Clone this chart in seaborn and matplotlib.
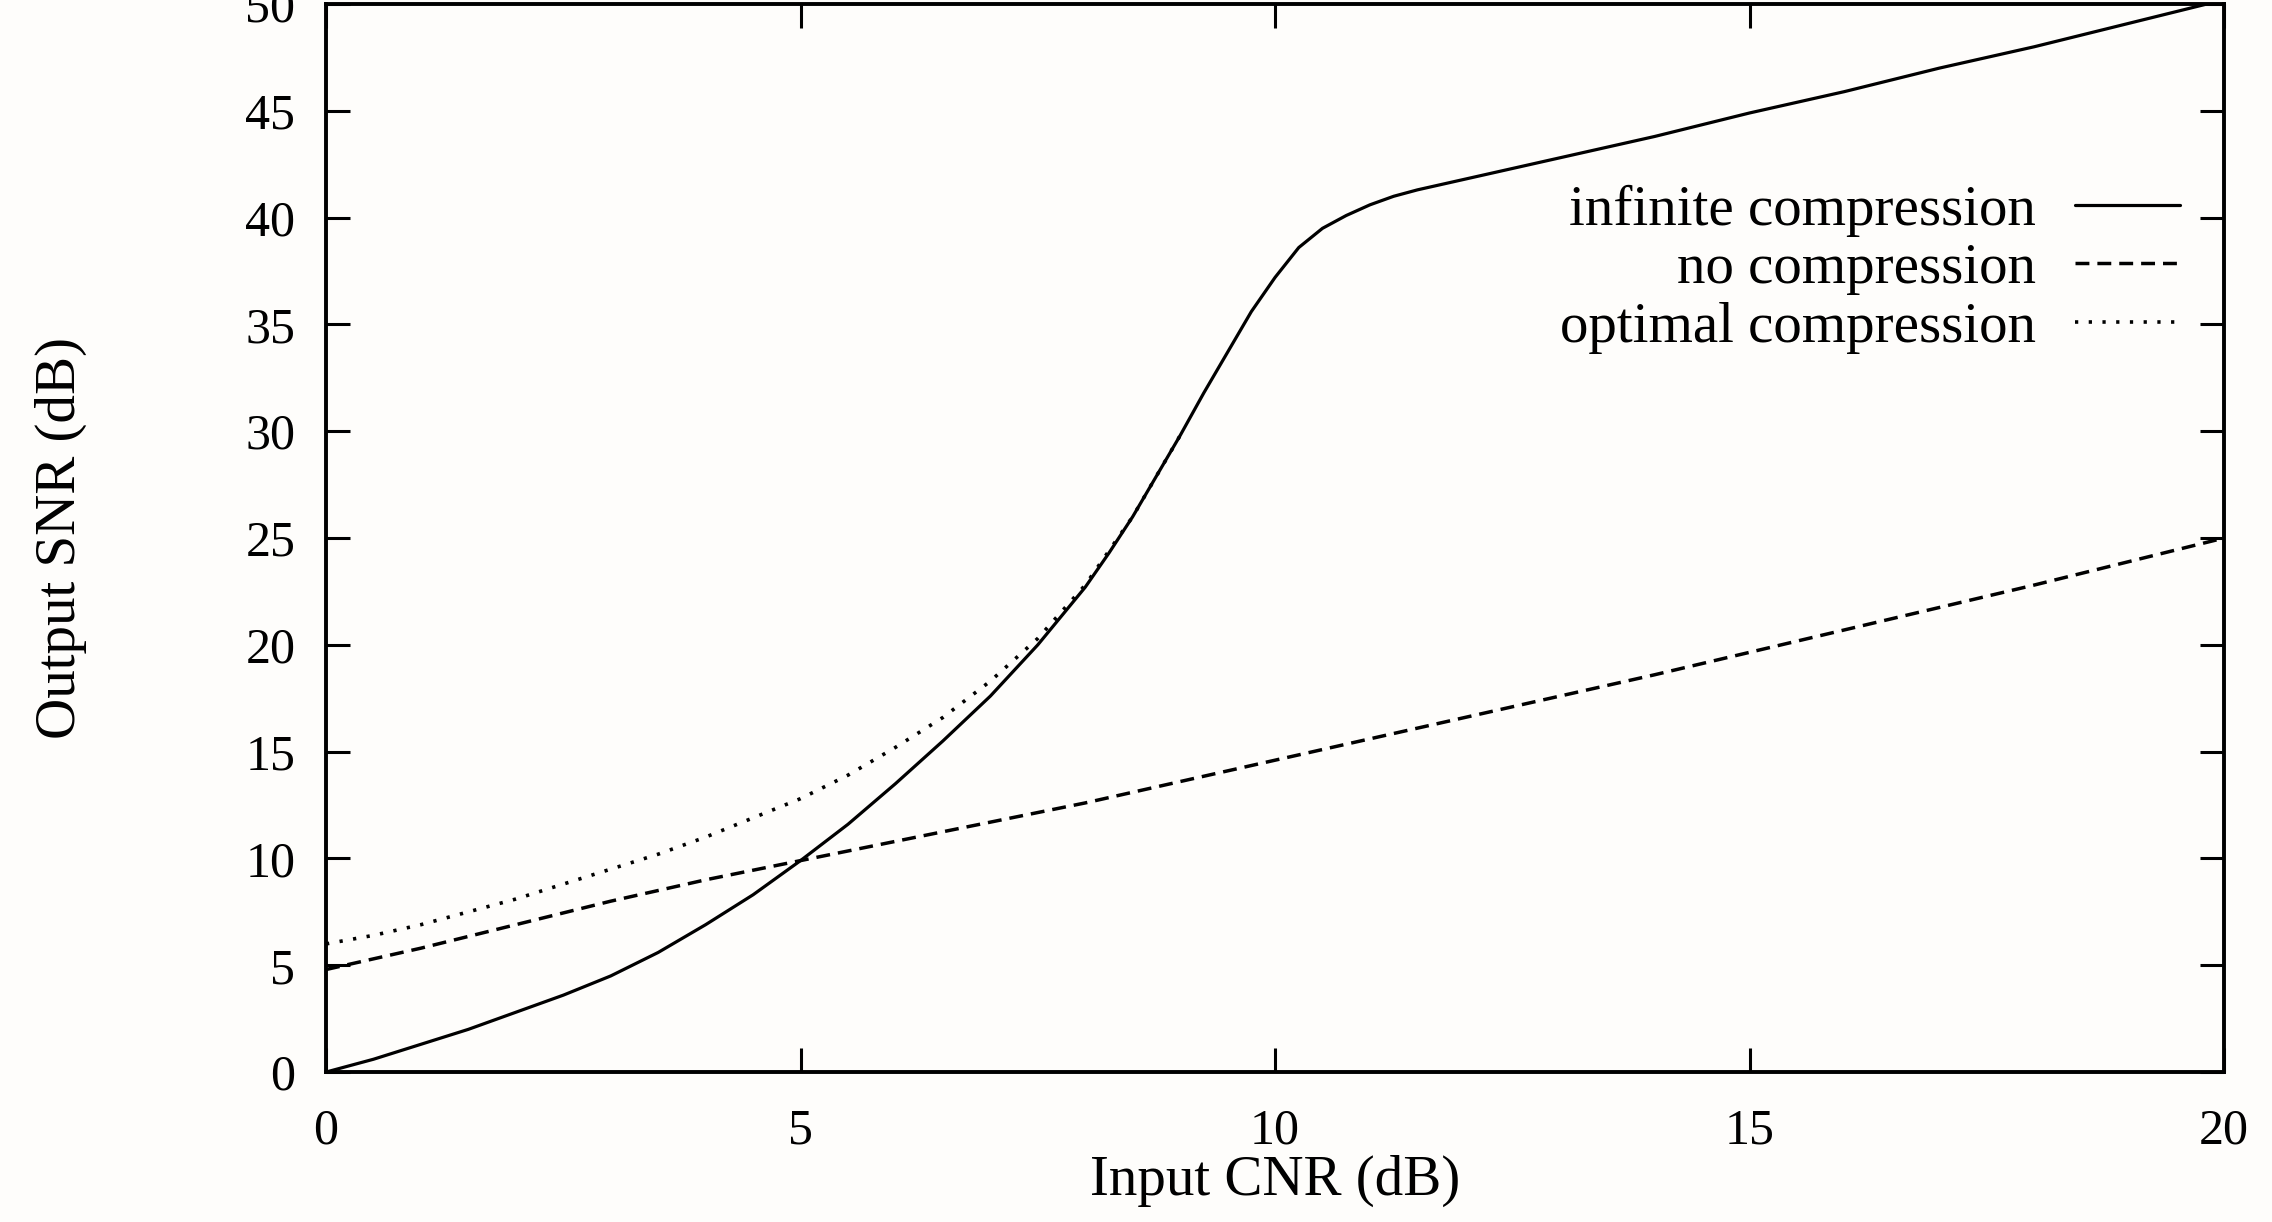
import pandas as pd
import matplotlib.pyplot as plt
import seaborn as sns

# --- data ---
X_INF = [0, 0.5, 1, 1.5, 2, 2.5, 3, 3.5, 4, 4.5, 5, 5.5, 6, 6.5, 7, 7.5, 8, 8.25, 8.5, 8.75, 9, 9.25, 9.5,
         9.75, 10, 10.25, 10.5, 10.75, 11, 11.25, 11.5, 12, 13, 14, 15, 16, 17, 18, 19, 20]
Y_INF = [0, 0.6, 1.3, 2.0, 2.8, 3.6, 4.5, 5.6, 6.9, 8.3, 9.9, 11.6, 13.5, 15.5, 17.6, 20.0, 22.7, 24.3, 26.0,
         27.9, 29.8, 31.8, 33.7, 35.6, 37.2, 38.6, 39.5, 40.1, 40.6, 41.0, 41.3, 41.8,
         42.8, 43.8, 44.9, 45.9, 47.0, 48.0, 49.1, 50.2]

X_NONE = [0, 1, 2, 3, 4, 5, 6, 7, 8, 10, 12, 14, 16, 18, 20]
Y_NONE = [4.8, 5.8, 6.9, 8.0, 9.0, 9.9, 10.8, 11.7, 12.6, 14.6, 16.6, 18.6, 20.7, 22.8, 25.0]

X_OPT = [0, 0.5, 1, 1.5, 2, 2.5, 3, 3.5, 4, 4.5, 5, 5.5, 6, 6.5, 7, 7.5, 8, 8.5, 9]
Y_OPT = [6.0, 6.4, 6.9, 7.5, 8.1, 8.8, 9.5, 10.2, 11.0, 11.9, 12.8, 13.9, 15.2, 16.6, 18.3, 20.3, 22.8, 26.0, 29.8]

LABELS = ['infinite compression', 'no compression', 'optimal compression']
X_TICKS = [0, 5, 10, 15, 20]
Y_TICKS = [0, 5, 10, 15, 20, 25, 30, 35, 40, 45, 50]


def draw_chart():
    sns.set_theme(style='ticks')
    plt.rcParams['font.family'] = ['Liberation Serif', 'DejaVu Serif']
    plt.rcParams['text.color'] = 'black'
    plt.rcParams['axes.labelcolor'] = 'black'
    plt.rcParams['xtick.color'] = 'black'
    plt.rcParams['ytick.color'] = 'black'

    fig = plt.figure(figsize=(22.72, 12.22), dpi=100, facecolor='#fefdfb')
    ax = fig.add_axes([0.1435, 0.1227, 0.8354, 0.874])
    ax.set_facecolor('#fefdfb')

    df_inf = pd.DataFrame({'x': X_INF, 'y': Y_INF})
    df_none = pd.DataFrame({'x': X_NONE, 'y': Y_NONE})
    df_opt = pd.DataFrame({'x': X_OPT, 'y': Y_OPT})

    # optimal first so the solid curve sits on top where they merge
    sns.lineplot(data=df_opt, x='x', y='y', ax=ax, color='black', lw=2.6,
                 linestyle=(0, (0.9, 2.9)), label=LABELS[2])
    sns.lineplot(data=df_none, x='x', y='y', ax=ax, color='black', lw=2.5,
                 linestyle=(0, (4.0, 2.3)), label=LABELS[1])
    sns.lineplot(data=df_inf, x='x', y='y', ax=ax, color='black', lw=2.3,
                 linestyle='-', label=LABELS[0])

    ax.set_xlim(0, 20)
    ax.set_ylim(0, 50)
    ax.set_xticks(X_TICKS)
    ax.set_yticks(Y_TICKS)
    ax.tick_params(axis='both', direction='in', length=17, width=2.2, labelsize=36,
                   top=True, right=True, pad=22)
    ax.tick_params(axis='x', pad=26)
    for sp in ax.spines.values():
        sp.set_linewidth(2.8)
        sp.set_color('black')

    ax.set_xlabel('Input CNR (dB)', fontsize=41, labelpad=0)
    ax.set_ylabel('Output SNR (dB)', fontsize=41, labelpad=114)

    handles, labels = ax.get_legend_handles_labels()
    order = [labels.index(l) for l in LABELS]
    ax.legend([handles[i] for i in order], [labels[i] for i in order],
              loc='upper right', bbox_to_anchor=(0.989, 0.852), frameon=False,
              markerfirst=False, fontsize=41, handlelength=1.85, handletextpad=0.68,
              labelspacing=0.11, borderaxespad=0)

    fig.savefig('out.png', dpi=100, facecolor=fig.get_facecolor())
    plt.close(fig)


if __name__ == "__main__":
    draw_chart()
